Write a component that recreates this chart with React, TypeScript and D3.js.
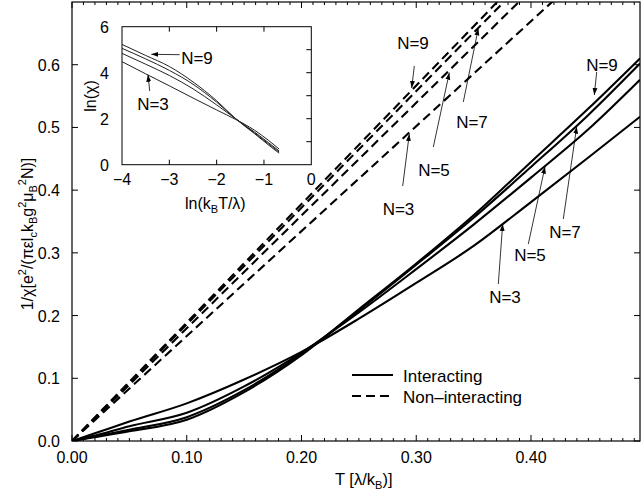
import React from "react";
import * as d3 from "d3";

// Interacting chains: inverse susceptibility vs temperature, [T, 1/chi]
const interactingN3: [number, number][] = [
  [0, 0], [0.018, 0.011], [0.05, 0.031], [0.1, 0.06], [0.15, 0.098], [0.2, 0.142],
  [0.25, 0.195], [0.3, 0.252], [0.35, 0.311], [0.4, 0.381], [0.45, 0.452], [0.495, 0.517],
];
const interactingN5: [number, number][] = [
  [0, 0], [0.018, 0.0079], [0.05, 0.0235], [0.1, 0.045], [0.15, 0.087], [0.2, 0.141],
  [0.25, 0.205], [0.3, 0.274], [0.35, 0.345], [0.4, 0.42], [0.45, 0.497], [0.495, 0.576],
];
const interactingN7: [number, number][] = [
  [0, 0], [0.018, 0.0064], [0.05, 0.018], [0.1, 0.038], [0.15, 0.081], [0.2, 0.139],
  [0.25, 0.208], [0.3, 0.281], [0.35, 0.356], [0.4, 0.437], [0.45, 0.52], [0.495, 0.602],
];
const interactingN9: [number, number][] = [
  [0, 0], [0.018, 0.0055], [0.05, 0.0155], [0.1, 0.034], [0.15, 0.078], [0.2, 0.137],
  [0.25, 0.21], [0.3, 0.283], [0.35, 0.36], [0.4, 0.445], [0.45, 0.53], [0.495, 0.61],
];

// Non-interacting chains are straight lines through the origin: [T, 1/chi] end points
const nonInteractingN3: [number, number][] = [[0, 0], [0.45, 0.753]];
const nonInteractingN5: [number, number][] = [[0, 0], [0.45, 0.809]];
const nonInteractingN7: [number, number][] = [[0, 0], [0.45, 0.837]];
const nonInteractingN9: [number, number][] = [[0, 0], [0.45, 0.85]];

// Inset: ln(chi) vs ln(kB T / lambda)
const insetN3: [number, number][] = [
  [-4, 4.48], [-3.5, 3.95], [-3, 3.43], [-2.5, 2.9], [-2, 2.38], [-1.6, 1.97], [-1.2, 1.5], [-0.9, 1.05], [-0.68, 0.68],
];
const insetN5: [number, number][] = [
  [-4, 4.84], [-3.5, 4.37], [-3, 3.88], [-2.5, 3.3], [-2, 2.6], [-1.6, 2.0], [-1.2, 1.42], [-0.9, 0.95], [-0.68, 0.6],
];
const insetN7: [number, number][] = [
  [-4, 5.06], [-3.5, 4.6], [-3, 4.1], [-2.5, 3.5], [-2, 2.72], [-1.6, 2.0], [-1.2, 1.38], [-0.9, 0.9], [-0.68, 0.55],
];
const insetN9: [number, number][] = [
  [-4, 5.23], [-3.5, 4.75], [-3, 4.27], [-2.5, 3.6], [-2, 2.78], [-1.6, 2.0], [-1.2, 1.35], [-0.9, 0.85], [-0.68, 0.5],
];

const xTickLabels = ["0.00", "0.10", "0.20", "0.30", "0.40"];
const yTickLabels = ["0.0", "0.1", "0.2", "0.3", "0.4", "0.5", "0.6"];
const insetXTickLabels = ["\u22124", "\u22123", "\u22122", "\u22121", "0"];
const insetYTickLabels = ["0", "2", "4", "6"];

const FONT = "'Liberation Sans', Arial, Helvetica, sans-serif";

export default function App() {
  const x = d3.scaleLinear().domain([0, 0.495]).range([72, 640]);
  const y = d3.scaleLinear().domain([0, 0.7]).range([441, 2]);
  const ix = d3.scaleLinear().domain([-4, 0]).range([122, 311.3]);
  const iy = d3.scaleLinear().domain([0, 6]).range([164.7, 26.7]);

  const curvedLine = d3
    .line<[number, number]>()
    .x((d) => x(d[0]))
    .y((d) => y(d[1]))
    .curve(d3.curveMonotoneX);
  const straightLine = d3
    .line<[number, number]>()
    .x((d) => x(d[0]))
    .y((d) => y(d[1]));
  const insetLine = d3
    .line<[number, number]>()
    .x((d) => ix(d[0]))
    .y((d) => iy(d[1]))
    .curve(d3.curveMonotoneX);

  const solid = [interactingN3, interactingN5, interactingN7, interactingN9];
  const dashed = [nonInteractingN3, nonInteractingN5, nonInteractingN7, nonInteractingN9];
  const inset = [insetN3, insetN5, insetN7, insetN9];

  const minorX = d3.range(0, 50).map((i) => i / 100);
  const majorX = xTickLabels.map((t) => +t);
  const majorY = yTickLabels.map((t) => +t);

  const [x0, x1] = x.range();
  const [y0, y1] = y.range();

  // arrow annotations: label text, label position, arrow tail, arrow head (in pixels)
  const notes = [
    { t: "N=9", lx: 413, ly: 49, a: [414.3, 66], b: [411.7, 88] },
    { t: "N=7", lx: 472, ly: 128, a: [463.3, 102], b: [478.3, 28.5] },
    { t: "N=5", lx: 434, ly: 176, a: [433.3, 147], b: [449.3, 72.7] },
    { t: "N=3", lx: 398.5, ly: 215, a: [402.7, 186], b: [409.3, 134] },
    { t: "N=9", lx: 602, ly: 71, a: [596.7, 72], b: [594.3, 95] },
    { t: "N=7", lx: 565, ly: 238, a: [563.3, 219], b: [576.7, 126.7] },
    { t: "N=5", lx: 530, ly: 261, a: [528.3, 244], b: [545, 166.7] },
    { t: "N=3", lx: 505, ly: 303, a: [498.3, 284], b: [502.7, 224] },
    { t: "N=9", lx: 197, ly: 64, a: [179.7, 54.7], b: [151.3, 54.3] },
    { t: "N=3", lx: 153, ly: 110, a: [149.7, 91], b: [148, 74.7] },
  ];

  return (
    <svg
      width={642}
      height={495}
      style={{ position: "absolute", left: 0, top: 0, background: "#fff" }}
      fontFamily={FONT}
    >
      <defs>
        <clipPath id="plotArea">
          <rect x={x0} y={y1} width={x1 - x0} height={y0 - y1} />
        </clipPath>
        <marker id="arrowHead" viewBox="0 0 10 10" refX="10" refY="5" markerWidth="7" markerHeight="7" orient="auto" markerUnits="userSpaceOnUse">
          <path d="M0,1.5 L10,5 L0,8.5 Z" fill="#000" />
        </marker>
      </defs>
      <rect width={642} height={495} fill="#fff" />

      {/* curves */}
      <g clipPath="url(#plotArea)" fill="none" stroke="#000" strokeWidth={2.1}>
        {dashed.map((d, i) => (
          <path key={"d" + i} d={straightLine(d) || ""} strokeDasharray="9,5" />
        ))}
        {solid.map((d, i) => (
          <path key={"s" + i} d={curvedLine(d) || ""} />
        ))}
      </g>

      {/* frame */}
      <rect x={x0} y={y1} width={x1 - x0} height={y0 - y1} fill="none" stroke="#000" strokeWidth={1.2} />

      {/* ticks */}
      <g stroke="#000" strokeWidth={1}>
        {minorX.map((t) => {
          const major = majorX.some((m) => Math.abs(m - t) < 1e-9);
          const len = major ? 6 : 3;
          return (
            <g key={"xt" + t}>
              <line x1={x(t)} x2={x(t)} y1={y0} y2={y0 - len} />
              <line x1={x(t)} x2={x(t)} y1={y1} y2={y1 + len} />
            </g>
          );
        })}
        {majorY.map((v) => (
          <g key={"yt" + v}>
            <line x1={x0} x2={x0 + 6} y1={y(v)} y2={y(v)} />
            <line x1={x1} x2={x1 - 6} y1={y(v)} y2={y(v)} />
          </g>
        ))}
      </g>

      {/* tick labels */}
      <g fontSize={16} fill="#000">
        {xTickLabels.map((t) => (
          <text key={"xl" + t} x={x(+t)} y={463} textAnchor="middle">{t}</text>
        ))}
        {yTickLabels.map((t) => (
          <text key={"yl" + t} x={60} y={y(+t) + 6} textAnchor="end">{t}</text>
        ))}
      </g>

      {/* axis titles */}
      <text x={335} y={485} fontSize={16.5}>
        T [λ/k<tspan fontSize={11} dy={4}>B</tspan><tspan dy={-4}>)]</tspan>
      </text>
      <text transform="translate(33,234) rotate(-90)" textAnchor="middle" fontSize={16}>
        1/χ[e<tspan fontSize={11} dy={-7}>2</tspan>
        <tspan dy={7}>/(πεl</tspan>
        <tspan fontSize={11} dy={4}>c</tspan>
        <tspan dy={-4}>k</tspan>
        <tspan fontSize={11} dy={4}>B</tspan>
        <tspan dy={-4}>g</tspan>
        <tspan fontSize={11} dy={-7}>2</tspan>
        <tspan dy={7}>μ</tspan>
        <tspan fontSize={11} dy={4}>B</tspan>
        <tspan fontSize={11} dy={-11}>2</tspan>
        <tspan dy={7}>N)]</tspan>
      </text>

      {/* legend */}
      <g stroke="#000" strokeWidth={2.1}>
        <line x1={352} x2={393} y1={375} y2={375} />
        <line x1={352} x2={393} y1={396} y2={396} strokeDasharray="9,5" />
      </g>
      <g fontSize={17} fill="#000">
        <text x={403} y={381.5}>Interacting</text>
        <text x={403} y={403}>Non–interacting</text>
      </g>

      {/* inset */}
      <rect x={ix(-4)} y={iy(6)} width={ix(0) - ix(-4)} height={iy(0) - iy(6)} fill="#fff" stroke="#000" strokeWidth={1} />
      <g stroke="#000" strokeWidth={1}>
        {[-3, -2, -1].map((v) => (
          <g key={"ixt" + v}>
            <line x1={ix(v)} x2={ix(v)} y1={iy(0)} y2={iy(0) - 5} />
            <line x1={ix(v)} x2={ix(v)} y1={iy(6)} y2={iy(6) + 5} />
          </g>
        ))}
        {[1, 2, 3, 4, 5].map((v) => (
          <line key={"iyt" + v} x1={ix(0)} x2={ix(0) - 5} y1={iy(v)} y2={iy(v)} />
        ))}
      </g>
      <g fill="none" stroke="#222" strokeWidth={1}>
        {inset.map((d, i) => (
          <path key={"i" + i} d={insetLine(d) || ""} />
        ))}
      </g>
      <g fontSize={16} fill="#000">
        {insetXTickLabels.map((t, i) => (
          <text key={"ixl" + i} x={ix(-4 + i)} y={185} textAnchor="middle">{t}</text>
        ))}
        {insetYTickLabels.map((t) => (
          <text key={"iyl" + t} x={109} y={iy(+t) + 6} textAnchor="end">{t}</text>
        ))}
      </g>
      <text x={185} y={209} fontSize={16}>
        ln(k<tspan fontSize={11} dy={4}>B</tspan><tspan dy={-4}>T/λ)</tspan>
      </text>
      <text transform="translate(96,96) rotate(-90)" textAnchor="middle" fontSize={16}>ln(χ)</text>

      {/* annotations */}
      <g stroke="#000" strokeWidth={0.8}>
        {notes.map((n, i) => (
          <line key={"a" + i} x1={n.a[0]} y1={n.a[1]} x2={n.b[0]} y2={n.b[1]} markerEnd="url(#arrowHead)" />
        ))}
      </g>
      <g fontSize={17} fill="#000">
        {notes.map((n, i) => (
          <text key={"n" + i} x={n.lx} y={n.ly} textAnchor="middle">{n.t}</text>
        ))}
      </g>
    </svg>
  );
}
